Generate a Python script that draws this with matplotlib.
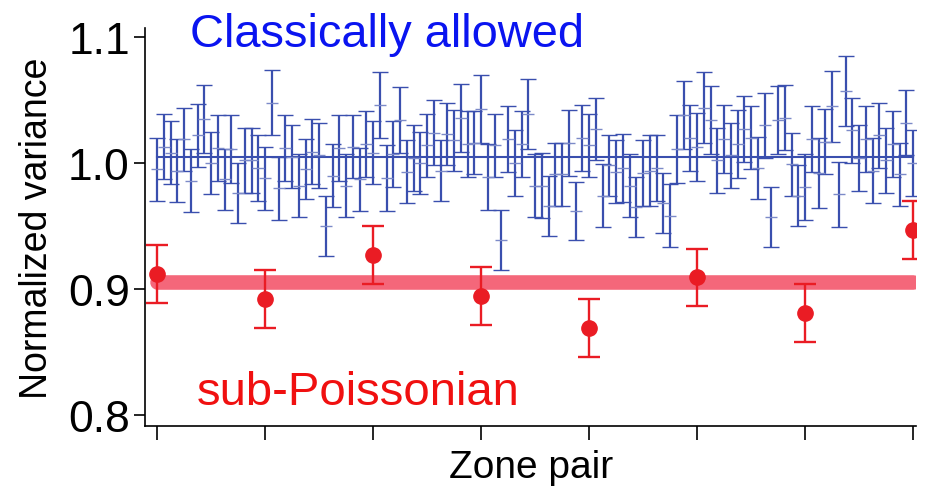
import matplotlib
matplotlib.use('Agg')
import matplotlib.pyplot as plt

plt.rcParams['font.family'] = ['Liberation Sans', 'DejaVu Sans']

# blue: every zone pair
blue_vals = [
    0.995, 1.013, 1.008, 0.994, 1.019, 0.986, 1.022, 1.035, 1.000, 1.012,
    0.987, 1.011, 0.976, 1.002, 1.002, 0.996, 0.988, 1.048, 0.980, 1.012,
    1.005, 0.982, 0.995, 1.009, 1.006, 0.950, 0.990, 1.012, 0.982, 1.013,
    0.987, 1.015, 1.008, 1.046, 0.988, 1.007, 1.034, 0.993, 1.004, 1.000,
    1.014, 1.024, 0.994, 1.023, 1.018, 1.036, 1.015, 1.016, 1.043, 0.989,
    1.014, 0.939, 1.019, 1.000, 1.015, 1.039, 0.982, 0.982, 0.966, 0.991,
    0.991, 1.016, 0.962, 1.020, 1.014, 1.027, 0.974, 0.998, 0.993, 0.996,
    0.982, 0.965, 0.992, 0.994, 0.996, 0.968, 0.958, 1.011, 1.038, 1.020,
    1.013, 1.044, 1.034, 1.002, 1.019, 1.006, 1.015, 1.027, 1.020, 0.996,
    1.030, 0.957, 1.034, 1.036, 0.999, 0.974, 0.981, 1.019, 0.992, 1.017,
    1.045, 0.975, 1.057, 1.026, 1.004, 1.019, 0.994, 1.022, 1.002, 1.015,
    0.991, 1.032, 1.000,
]
blue_err = [
    0.025, 0.026, 0.025, 0.025, 0.025, 0.025, 0.025, 0.027, 0.025, 0.026,
    0.024, 0.027, 0.024, 0.026, 0.026, 0.026, 0.025, 0.026, 0.025, 0.026,
    0.025, 0.025, 0.024, 0.026, 0.026, 0.024, 0.025, 0.026, 0.025, 0.025,
    0.025, 0.026, 0.025, 0.026, 0.026, 0.026, 0.026, 0.025, 0.026, 0.025,
    0.025, 0.026, 0.024, 0.025, 0.024, 0.027, 0.026, 0.025, 0.027, 0.026,
    0.025, 0.024, 0.026, 0.026, 0.026, 0.028, 0.025, 0.026, 0.024, 0.025,
    0.025, 0.026, 0.023, 0.026, 0.025, 0.025, 0.025, 0.024, 0.025, 0.027,
    0.025, 0.024, 0.026, 0.028, 0.026, 0.024, 0.025, 0.027, 0.027, 0.026,
    0.027, 0.028, 0.027, 0.026, 0.027, 0.026, 0.027, 0.026, 0.025, 0.025,
    0.026, 0.024, 0.027, 0.026, 0.025, 0.024, 0.026, 0.026, 0.028, 0.026,
    0.028, 0.026, 0.028, 0.026, 0.026, 0.026, 0.026, 0.026, 0.026, 0.026,
    0.025, 0.026, 0.026,
]
blue_mean = 1.005

# red: every 16th zone pair
red_idx = [0, 16, 32, 48, 64, 80, 96, 112]
red_vals = [0.912, 0.892, 0.927, 0.894, 0.869, 0.909, 0.881, 0.947]
red_err = [0.023, 0.023, 0.023, 0.023, 0.023, 0.023, 0.023, 0.023]
red_mean = 0.905

yticks = [0.8, 0.9, 1.0, 1.1]
ytick_labels = ['0.8', '0.9', '1.0', '1.1']

blue = '#3a4fae'
red = '#ea1c24'
pink = '#f4677a'

fig = plt.figure(figsize=(9.25, 4.89), dpi=100)
ax = fig.add_axes([0.1568, 0.127, 0.834, 0.813])

xs = list(range(len(blue_vals)))
ax.plot([xs[0], xs[-1]], [blue_mean, blue_mean], color=blue, lw=1.5, zorder=2)
ax.errorbar(xs, blue_vals, yerr=blue_err, fmt='_', color=blue, ecolor=blue,
            elinewidth=1.6, capsize=6, capthick=1.6, markersize=9,
            markeredgewidth=1, markeredgecolor='#7c8ac8', zorder=3)

ax.plot([red_idx[0], red_idx[-1]], [red_mean, red_mean], color=pink, lw=10.5,
        solid_capstyle='round', zorder=4)
ax.errorbar(red_idx, red_vals, yerr=red_err, fmt='o', color=red, ecolor=red,
            elinewidth=1.7, capsize=8, capthick=1.7, markersize=11, zorder=5)

ax.text(4.9, 1.0932, 'Classically allowed', color='#0a14f0', fontsize=33.8)
ax.text(5.9, 0.8088, 'sub-Poissonian', color='#f01010', fontsize=34)

ax.set_xlim(-1.8, 112.5)
ax.set_ylim(0.791, 1.107)
ax.set_yticks(yticks)
ax.set_yticklabels(ytick_labels)
ax.set_xticks(red_idx)
ax.set_xticklabels([])
ax.tick_params(axis='y', direction='out', length=8, width=1.2, labelsize=32, pad=3)
ax.tick_params(axis='x', direction='out', length=10, width=1.2)
for s in ['top', 'right']:
    ax.spines[s].set_visible(False)
for s in ['left', 'bottom']:
    ax.spines[s].set_linewidth(1.2)

ax.set_ylabel('Normalized variance', fontsize=27, labelpad=9)
ax.set_xlabel('Zone pair', fontsize=28, labelpad=3)

fig.savefig('out.png', dpi=100)
